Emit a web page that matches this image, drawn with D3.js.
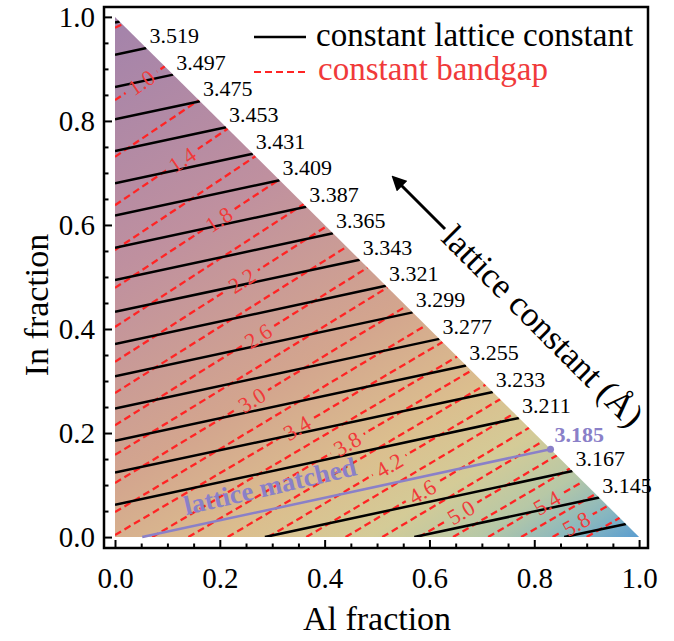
<!DOCTYPE html>
<html>
<head>
<meta charset="utf-8">
<script src="https://cdn.jsdelivr.net/npm/d3@7"></script>
<style>
  body { margin: 0; background: #fff; }
  svg { display: block; font-family: "Liberation Serif", "Times New Roman", serif; }
</style>
</head>
<body>
<div id="chart"></div>
<script>
// constant lattice constant lines (Å): start point [Al, In] and Al fraction where they meet the In+Al=1 edge
const latticeValues = [3.541, 3.519, 3.497, 3.475, 3.453, 3.431, 3.409, 3.387, 3.365, 3.343,
  3.321, 3.299, 3.277, 3.255, 3.233, 3.211, 3.167, 3.145, 3.123];
const latticeStart = [[0, 0.989], [0, 0.927], [0, 0.865], [0, 0.803], [0, 0.742], [0, 0.680],
  [0, 0.618], [0, 0.556], [0, 0.494], [0, 0.433], [0, 0.371], [0, 0.309], [0, 0.247],
  [0, 0.185], [0, 0.124], [0, 0.062], [0.286, 0], [0.571, 0], [0.857, 0]];
const latticeEndAl = [0.009, 0.060, 0.111, 0.162, 0.212, 0.263, 0.314, 0.365, 0.416, 0.467,
  0.517, 0.568, 0.619, 0.670, 0.721, 0.771, 0.873, 0.924, 0.975];
const latticeLabels = ['', '3.519', '3.497', '3.475', '3.453', '3.431', '3.409', '3.387', '3.365',
  '3.343', '3.321', '3.299', '3.277', '3.255', '3.233', '3.211', '3.167', '3.145', ''];

// lattice matched line
const matchedValue = '3.185';
const matchedStart = [0.052, 0];
const matchedEndAl = 0.831;

// constant bandgap lines (eV)
const bandgapValues = [0.8, 1.0, 1.2, 1.4, 1.6, 1.8, 2.0, 2.2, 2.4, 2.6, 2.8, 3.0, 3.2, 3.4,
  3.6, 3.8, 4.0, 4.2, 4.4, 4.6, 4.8, 5.0, 5.2, 5.4, 5.6, 5.8, 6.0];
const bandgapStart = [[0, 0.979], [0, 0.840], [0, 0.731], [0, 0.638], [0, 0.552], [0, 0.479],
  [0, 0.404], [0, 0.337], [0, 0.277], [0, 0.215], [0, 0.158], [0, 0.104], [0, 0.048], [0, 0.004],
  [0.071, 0], [0.140, 0], [0.215, 0], [0.292, 0], [0.365, 0], [0.440, 0], [0.510, 0], [0.580, 0],
  [0.645, 0], [0.712, 0], [0.775, 0], [0.835, 0], [0.900, 0]];
const bandgapEndAl = [0.014, 0.095, 0.160, 0.215, 0.268, 0.313, 0.360, 0.403, 0.442, 0.482,
  0.520, 0.556, 0.593, 0.625, 0.653, 0.680, 0.707, 0.735, 0.762, 0.790, 0.816, 0.843, 0.868,
  0.893, 0.917, 0.940, 0.963];
// labelled bandgap lines and the Al fraction where the label sits
const bandgapLabelValues = [1.0, 1.4, 1.8, 2.2, 2.6, 3.0, 3.4, 3.8, 4.2, 4.6, 5.0, 5.4, 5.8];
const bandgapLabelAl = [0.050, 0.128, 0.198, 0.242, 0.273, 0.261, 0.347, 0.443, 0.523, 0.586,
  0.660, 0.824, 0.880];

const majorTicks = [0, 0.2, 0.4, 0.6, 0.8, 1.0];
const minorTicks = [0.05, 0.1, 0.15, 0.25, 0.3, 0.35, 0.45, 0.5, 0.55, 0.65, 0.7, 0.75, 0.85, 0.9, 0.95];

const width = 674;
const height = 641;
const frame = {left: 104, right: 648, top: 7, bottom: 548};
const red = '#ff2424';
const purple = '#8a80c8';

const x = d3.scaleLinear().domain([-0.021, 1.017]).range([frame.left, frame.right]);
const y = d3.scaleLinear().domain([-0.021, 1.019]).range([frame.bottom, frame.top]);

const svg = d3.select('#chart').append('svg')
  .attr('width', width)
  .attr('height', height);

const defs = svg.append('defs');

// background colour runs across the bandgap lines
const p0 = [x(0), y(1)];
const p1 = [x(1), y(0)];
const dir = [0.53, 0.848];
const len = (p1[0] - p0[0]) * dir[0] + (p1[1] - p0[1]) * dir[1];
const grad = defs.append('linearGradient')
  .attr('id', 'bg')
  .attr('gradientUnits', 'userSpaceOnUse')
  .attr('x1', p0[0]).attr('y1', p0[1])
  .attr('x2', p0[0] + dir[0] * len).attr('y2', p0[1] + dir[1] * len);
[[0, '#a383ab'], [0.3, '#bf909f'], [0.55, '#d3a58e'], [0.7, '#dbbe8e'],
 [0.8, '#d4cb97'], [0.88, '#b7c8a6'], [0.95, '#86b6c0'], [1, '#5a9dd0']].forEach(s => {
  grad.append('stop').attr('offset', s[0]).attr('stop-color', s[1]);
});

const triangle = [[0, 0], [1, 0], [0, 1]].map(p => [x(p[0]), y(p[1])]);

defs.append('clipPath').attr('id', 'tri')
  .append('polygon').attr('points', triangle.join(' '));

svg.append('polygon')
  .attr('points', triangle.join(' '))
  .attr('fill', 'url(#bg)');

// geometry of a line from its start to the Al+In=1 edge
function segment(start, endAl) {
  return [[x(start[0]), y(start[1])], [x(endAl), y(1 - endAl)]];
}
function pointAt(start, endAl, al) {
  const t = (al - start[0]) / (endAl - start[0]);
  return [al, start[1] + t * (1 - endAl - start[1])];
}

// gaps in the dashed lines under their labels
const gapMask = defs.append('mask').attr('id', 'gaps')
  .attr('maskUnits', 'userSpaceOnUse')
  .attr('x', 0).attr('y', 0).attr('width', width).attr('height', height);
gapMask.append('rect').attr('width', width).attr('height', height).attr('fill', '#fff');

const bgLabels = bandgapLabelValues.map((v, k) => {
  const i = bandgapValues.indexOf(v);
  const seg = segment(bandgapStart[i], bandgapEndAl[i]);
  const p = pointAt(bandgapStart[i], bandgapEndAl[i], bandgapLabelAl[k]);
  const angle = Math.atan2(seg[1][1] - seg[0][1], seg[1][0] - seg[0][0]) * 180 / Math.PI;
  return {text: v.toFixed(1), px: x(p[0]), py: y(p[1]), angle: angle};
});

gapMask.selectAll('rect.gap')
  .data(bgLabels)
  .enter().append('rect')
  .attr('class', 'gap')
  .attr('x', -19).attr('y', -10)
  .attr('width', 38).attr('height', 20)
  .attr('fill', '#000')
  .attr('transform', d => `translate(${d.px},${d.py}) rotate(${d.angle})`);

const plot = svg.append('g').attr('clip-path', 'url(#tri)');

plot.append('g').attr('mask', 'url(#gaps)')
  .selectAll('line')
  .data(bandgapValues.map((v, i) => segment(bandgapStart[i], bandgapEndAl[i])))
  .enter().append('line')
  .attr('x1', d => d[0][0]).attr('y1', d => d[0][1])
  .attr('x2', d => d[1][0]).attr('y2', d => d[1][1])
  .attr('stroke', red)
  .attr('stroke-width', 2.3)
  .attr('stroke-dasharray', '7,4');

plot.append('g')
  .selectAll('line')
  .data(latticeValues.map((v, i) => segment(latticeStart[i], latticeEndAl[i])))
  .enter().append('line')
  .attr('x1', d => d[0][0]).attr('y1', d => d[0][1])
  .attr('x2', d => d[1][0]).attr('y2', d => d[1][1])
  .attr('stroke', '#000')
  .attr('stroke-width', 2.5);

const matched = segment(matchedStart, matchedEndAl);
svg.append('line')
  .attr('x1', matched[0][0]).attr('y1', matched[0][1])
  .attr('x2', matched[1][0]).attr('y2', matched[1][1])
  .attr('stroke', purple)
  .attr('stroke-width', 2.5);
svg.append('circle')
  .attr('cx', matched[1][0]).attr('cy', matched[1][1])
  .attr('r', 3.5)
  .attr('fill', purple);
svg.append('text')
  .attr('x', matched[1][0] + 4)
  .attr('y', matched[1][1] - 7)
  .attr('fill', purple)
  .style('font-size', '22px')
  .style('font-weight', 'bold')
  .text(matchedValue);

const matchedAngle = Math.atan2(matched[1][1] - matched[0][1], matched[1][0] - matched[0][0]) * 180 / Math.PI;
svg.append('text')
  .attr('transform', `translate(272,495) rotate(${matchedAngle - 1})`)
  .attr('text-anchor', 'middle')
  .attr('fill', purple)
  .style('font-size', '27px')
  .style('font-weight', 'bold')
  .text('lattice matched');

// bandgap labels
svg.append('g')
  .selectAll('text')
  .data(bgLabels)
  .enter().append('text')
  .attr('transform', d => `translate(${d.px},${d.py}) rotate(${d.angle})`)
  .attr('text-anchor', 'middle')
  .attr('dy', '0.35em')
  .attr('fill', '#f03a3a')
  .style('font-size', '22px')
  .text(d => d.text);

// lattice constant labels along the edge
svg.append('g')
  .selectAll('text')
  .data(latticeLabels.map((t, i) => ({t: t, end: latticeEndAl[i]})).filter(d => d.t))
  .enter().append('text')
  .attr('x', d => x(d.end) + 3)
  .attr('y', d => y(1 - d.end) - 5)
  .style('font-size', '22px')
  .text(d => d.t);

// frame and ticks
svg.append('rect')
  .attr('x', frame.left).attr('y', frame.top)
  .attr('width', frame.right - frame.left)
  .attr('height', frame.bottom - frame.top)
  .attr('fill', 'none')
  .attr('stroke', '#000')
  .attr('stroke-width', 2.5);

function styleAxis(g) {
  g.select('.domain').remove();
  g.attr('font-family', null).attr('font-size', null);
  g.selectAll('line').attr('stroke-width', 2);
  g.selectAll('text').style('font-size', '29px').attr('fill', '#000');
}

svg.append('g')
  .attr('transform', `translate(0,${frame.bottom})`)
  .call(d3.axisBottom(x).tickValues(majorTicks).tickSize(-8).tickPadding(19).tickFormat(d3.format('.1f')))
  .call(styleAxis);
svg.append('g')
  .attr('transform', `translate(0,${frame.bottom})`)
  .call(d3.axisBottom(x).tickValues(minorTicks).tickSize(-4.5).tickFormat(''))
  .call(styleAxis);
svg.append('g')
  .attr('transform', `translate(${frame.left},0)`)
  .call(d3.axisLeft(y).tickValues(majorTicks).tickSize(-8).tickPadding(9).tickFormat(d3.format('.1f')))
  .call(styleAxis);
svg.append('g')
  .attr('transform', `translate(${frame.left},0)`)
  .call(d3.axisLeft(y).tickValues(minorTicks).tickSize(-4.5).tickFormat(''))
  .call(styleAxis);

// axis titles
svg.append('text')
  .attr('x', 377).attr('y', 630)
  .attr('text-anchor', 'middle')
  .style('font-size', '34px')
  .text('Al fraction');
svg.append('text')
  .attr('transform', 'translate(48,305) rotate(-90)')
  .attr('text-anchor', 'middle')
  .style('font-size', '34px')
  .text('In fraction');

// legend
svg.append('line')
  .attr('x1', 254).attr('x2', 306).attr('y1', 37).attr('y2', 37)
  .attr('stroke', '#000').attr('stroke-width', 2.5);
svg.append('text')
  .attr('x', 316).attr('y', 46)
  .style('font-size', '33px')
  .text('constant lattice constant');
svg.append('line')
  .attr('x1', 254).attr('x2', 308).attr('y1', 72).attr('y2', 72)
  .attr('stroke', red).attr('stroke-width', 2.2).attr('stroke-dasharray', '7,4');
svg.append('text')
  .attr('x', 318).attr('y', 80)
  .attr('fill', '#f03a3a')
  .style('font-size', '33px')
  .text('constant bandgap');

// arrow and rotated note
defs.append('marker')
  .attr('id', 'head')
  .attr('viewBox', '0 0 10 10')
  .attr('refX', 2).attr('refY', 5)
  .attr('markerWidth', 5).attr('markerHeight', 5)
  .attr('orient', 'auto')
  .append('path').attr('d', 'M0,0L10,5L0,10z').attr('fill', '#000');
svg.append('line')
  .attr('x1', 445).attr('y1', 229).attr('x2', 400).attr('y2', 184)
  .attr('stroke', '#000').attr('stroke-width', 3)
  .attr('marker-end', 'url(#head)');
svg.append('text')
  .attr('transform', 'translate(542,327) rotate(45)')
  .attr('text-anchor', 'middle')
  .attr('dy', '0.3em')
  .style('font-size', '35px')
  .text('lattice constant (Å)');
</script>
</body>
</html>
